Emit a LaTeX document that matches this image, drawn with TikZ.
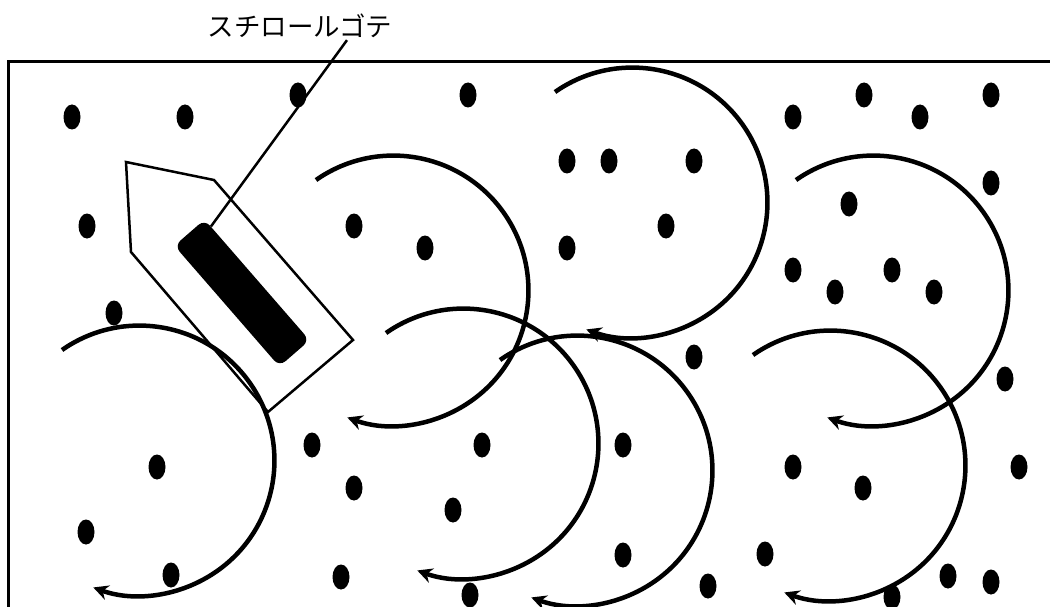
\documentclass[tikz,border=0pt]{standalone}
\usepackage{fontspec}
\newfontfamily\jpfont{Noto Sans CJK JP}
\usetikzlibrary{arrows.meta, calc}
\begin{document}
\begin{tikzpicture}[
  x=1pt, y=-1pt,
  frame/.style={line width=3pt},
  swirl/.style={line width=4.5pt, -{Stealth[length=15pt, width=15pt, inset=5pt]}},
  speck/.style={fill=black},
  trowel/.style={line width=2.5pt, line join=miter},
  barbox/.style={rectangle, rounded corners=8pt, minimum width=160pt, minimum height=40pt, fill=black, inner sep=0pt},
  lbl/.style={font=\jpfont\fontsize{26.5}{30}\selectfont, inner sep=2pt},
  leader/.style={line width=2.5pt}
]
\useasboundingbox (0,0) rectangle (1050,607);
\clip (0,0) rectangle (1050,607);

\draw[frame] (8,62) rectangle (1080,640);

\foreach \px/\py in {72/117, 185/117, 298/95, 468/95, 793/117, 864/95, 920/117, 991/95,
    87/226, 354/226, 425/248, 567/161, 609/161, 694/161, 666/226, 567/248,
    849/204, 991/183, 793/270, 835/292, 892/270, 934/292,
    114/313, 694/357, 1005/379, 157/467, 86/532, 171/575,
    312/445, 354/488, 341/577, 482/445, 453/510, 470/595, 623/445, 623/555,
    708/586, 765/554, 793/467, 863/488, 1019/467, 892/597, 948/576, 991/582}
  \fill[speck] (\px,\py) ellipse [x radius=8.5, y radius=12.5];

\foreach \sx/\sy in {62/350, 316/180, 555/92, 796/180, 386/333, 500/360, 753/355}
  \draw[swirl] (\sx,\sy) arc[start angle=-125, end angle=110, radius=135];

\draw[trowel] (126,162) -- (214,180) -- (353,340) -- (268,412) -- (131,252) -- cycle;
\node[barbox, rotate=-49] (bar) at (242,293) {};

\node[lbl] (gotelbl) at (300,26) {スチロールゴテ};
\draw[leader] ([xshift=47pt]gotelbl.south) -- ($(bar.north west)!0.06!(bar.north east)$);

\end{tikzpicture}
\end{document}
